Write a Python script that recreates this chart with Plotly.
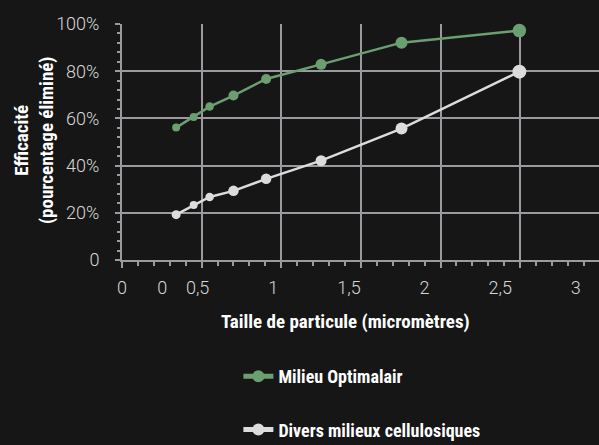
import plotly.graph_objects as go

# ---- data ----
particle_size = [0.34, 0.45, 0.55, 0.70, 0.905, 1.25, 1.755, 2.495]
optimalair = [56.1, 60.6, 65.0, 69.7, 76.7, 82.9, 92.1, 97.2]
cellulose = [19.2, 23.3, 26.7, 29.3, 34.4, 42.1, 55.7, 79.8]
series_names = ["Milieu Optimalair", "Divers milieux cellulosiques"]

x_label_vals = [0, 0.266, 0.5, 1, 1.5, 2, 2.5, 3]
x_label_text = ["0", "0", "0,5", "1", "1,5", "2", "2,5", "3"]
y_tick_vals = [0, 20, 40, 60, 80, 100]
y_tick_text = ["0", "20%", "40%", "60%", "80%", "100%"]

x_title = "Taille de particule (micromètres)"
y_title = "Efficacité<br>(pourcentage éliminé)"

# ---- styles ----
BG = "#161616"
GRID = "#9b9b9f"
GREEN = "#6b9f72"
WHITE = "#dcdcdc"
TICK_FONT = dict(family="Roboto", size=18, color="#d6d6d6", weight=300)
BOLD_FONT = "Liberation Sans Narrow, Arial Narrow, Roboto Condensed, DejaVu Sans Condensed, Roboto, sans-serif"
marker_sizes_green = [8, 8, 8.5, 10, 10, 11, 12, 13.5]
marker_sizes_white = [9, 8, 8.5, 10.5, 10.5, 11, 12, 14]

fig = go.Figure()
fig.add_trace(go.Scatter(
    x=particle_size, y=optimalair, name=series_names[0], mode="lines+markers",
    line=dict(color=GREEN, width=2.5),
    marker=dict(color=GREEN, size=marker_sizes_green, opacity=1, line=dict(width=0)),
    legendgroup="a", cliponaxis=False))
fig.add_trace(go.Scatter(
    x=particle_size, y=cellulose, name=series_names[1], mode="lines+markers",
    line=dict(color=WHITE, width=2.5),
    marker=dict(color=WHITE, size=marker_sizes_white, opacity=1, line=dict(width=0)),
    legendgroup="b", cliponaxis=False))
# empty helper trace so the label axis (x2) gets drawn
fig.add_trace(go.Scatter(x=[], y=[], xaxis="x2", yaxis="y", showlegend=False,
                         hoverinfo="skip", mode="markers"))

fig.update_layout(
    width=599, height=445,
    margin=dict(l=122, r=0, t=24, b=185, autoexpand=False),
    paper_bgcolor=BG, plot_bgcolor=BG,
    showlegend=True,
    legend=dict(x=0.244, y=-0.415, xanchor="left", yanchor="top",
                bgcolor="rgba(0,0,0,0)", tracegroupgap=27, itemsizing="constant",
                font=dict(family=BOLD_FONT, size=18, color="#ffffff", weight="bold")),
    xaxis=dict(range=[0, 2.995], dtick=0.5, tick0=0, showgrid=True, gridcolor=GRID, gridwidth=2,
               showticklabels=False, ticks="outside", ticklen=6, tickwidth=2, tickcolor=GRID,
               showline=True, linecolor=GRID, linewidth=2, zeroline=False,
               minor=dict(dtick=0.1, ticks="outside", ticklen=4, tickwidth=1.5, tickcolor=GRID, showgrid=False)),
    xaxis2=dict(overlaying="x", anchor="y", side="bottom", range=[0, 3.153],
                tickvals=x_label_vals, ticktext=x_label_text, showgrid=False, ticks="",
                showline=False, zeroline=False, tickfont=TICK_FONT, ticklabelstandoff=15),
    yaxis=dict(range=[0, 100], tickvals=y_tick_vals, ticktext=y_tick_text,
               showgrid=True, gridcolor=GRID, gridwidth=2, ticks="outside", ticklen=5,
               tickwidth=2, tickcolor=GRID, showline=True, linecolor=GRID, linewidth=2,
               zeroline=False, tickfont=TICK_FONT, ticklabelstandoff=12,
               minor=dict(dtick=4, ticks="outside", ticklen=3, tickwidth=1.5, tickcolor=GRID, showgrid=False)),
    annotations=[
        dict(text=x_title, xref="paper", yref="paper", x=0.4696, y=-0.2585,
             xanchor="center", yanchor="middle", showarrow=False,
             font=dict(family=BOLD_FONT, size=19, color="#ffffff", weight="bold")),
        dict(text=y_title, xref="paper", yref="paper", x=-0.1845, y=0.508,
             xanchor="center", yanchor="middle", showarrow=False, textangle=-90,
             font=dict(family=BOLD_FONT, size=19, color="#ffffff", weight="bold")),
    ],
)

fig.write_html("out.html", config={"displayModeBar": False},
               post_script="document.body.style.margin='0';document.body.style.background='#161616';")
